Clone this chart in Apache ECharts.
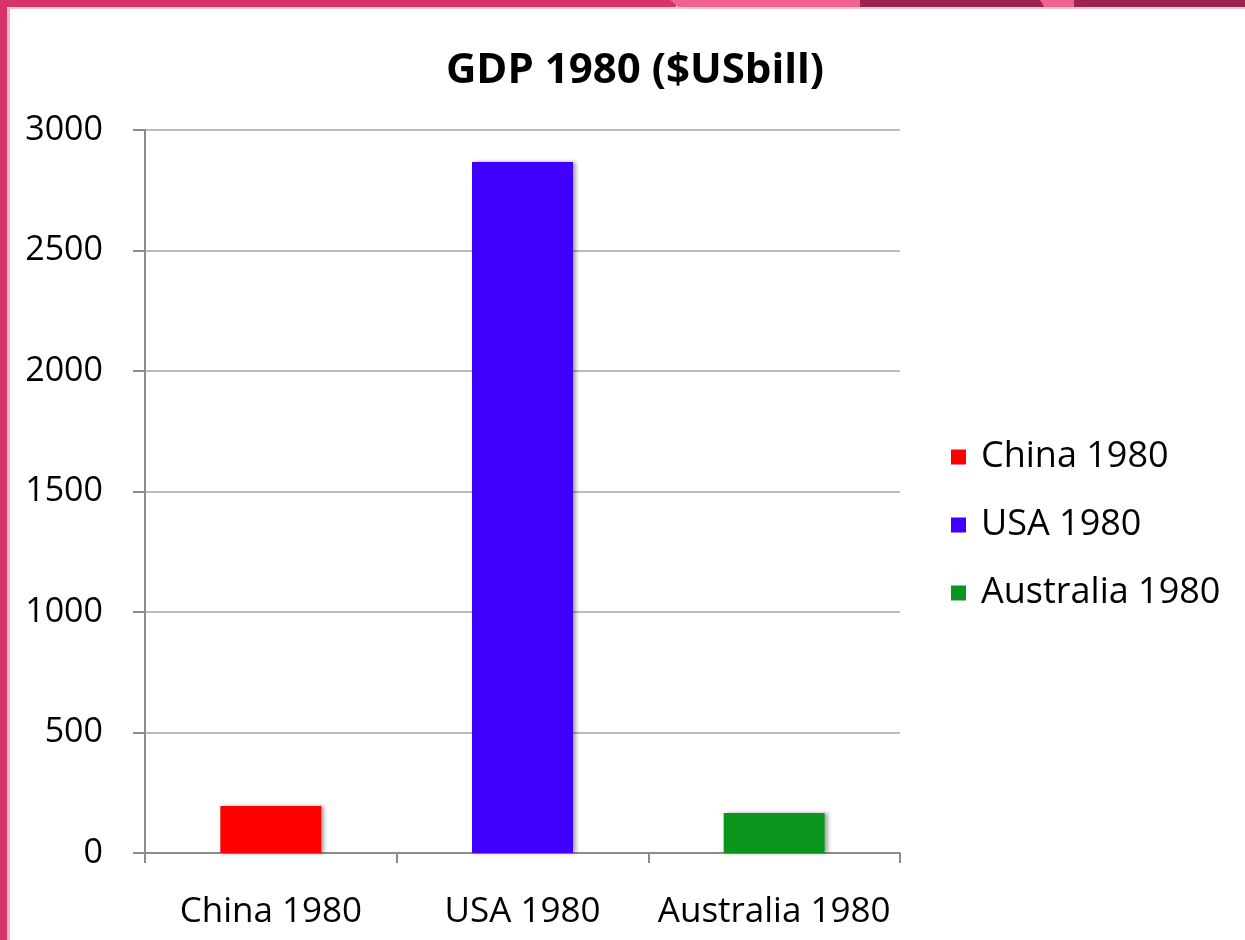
<!DOCTYPE html>
<html>
<head>
<meta charset="utf-8">
<script src="https://cdn.jsdelivr.net/npm/echarts@6/dist/echarts.min.js"></script>
<style>
  html, body { margin: 0; padding: 0; background: #fff; }
  #frame { position: relative; width: 1245px; height: 940px; overflow: hidden; background: #fff; }
  #chart { position: absolute; left: 0; top: 0; width: 1245px; height: 940px; }
  .band { position: absolute; top: 0; height: 7px; }
  #leftBar { position: absolute; left: 0; top: 0; width: 7px; height: 940px; background: #d6336a; }
  #leftEdge { position: absolute; left: 7px; top: 7px; width: 3px; height: 933px; background: #f6b3c9; }
  #topEdge { position: absolute; left: 7px; top: 7px; width: 1238px; height: 2px; background: #f6c3d4; }
</style>
</head>
<body>
<div id="frame">
  <div id="chart"></div>
  <div id="leftBar"></div>
  <div id="leftEdge"></div>
  <div id="topEdge"></div>
  <div class="band" style="left:0;width:676px;background:#d6336a;"></div>
  <div class="band" style="left:670px;width:200px;background:#f06292;clip-path:polygon(0 0,100% 0,96% 100%,4% 100%);"></div>
  <div class="band" style="left:860px;width:186px;background:#9c2350;"></div>
  <div class="band" style="left:1040px;width:36px;background:#f06292;clip-path:polygon(0 0,100% 0,100% 100%,12% 100%);"></div>
  <div class="band" style="left:1074px;width:171px;background:#9c2350;"></div>
</div>
<script>
// GDP in 1980, billions of US dollars
const categories = ['China 1980', 'USA 1980', 'Australia 1980'];
const gdpValues = [195, 2867, 166];
const barColors = ['#ff0000', '#3f00ff', '#0a961e'];
const yTicks = [0, 500, 1000, 1500, 2000, 2500, 3000];

const font = '"Open Sans", "Liberation Sans", sans-serif';

// one series per country so each gets its own legend entry; stacking keeps each bar centred
const series = categories.map((name, i) => ({
  name: name,
  type: 'bar',
  stack: 'gdp',
  barWidth: 101,
  data: categories.map((c, j) => (j === i ? gdpValues[i] : null)),
  itemStyle: {
    color: barColors[i],
    shadowColor: 'rgba(0,0,0,0.35)',
    shadowBlur: 4,
    shadowOffsetX: 3,
    shadowOffsetY: 0
  }
}));

const chart = echarts.init(document.getElementById('chart'), null, { renderer: 'canvas' });
chart.setOption({
  animation: false,
  backgroundColor: 'transparent',
  title: {
    text: 'GDP 1980 ($USbill)',
    left: 630,
    textAlign: 'center',
    top: 45,
    textStyle: { fontFamily: font, fontWeight: 'bold', fontSize: 42, color: '#000' }
  },
  legend: {
    orient: 'vertical',
    left: 946,
    top: 434,
    itemGap: 32,
    itemWidth: 15,
    itemHeight: 15,
    icon: 'rect',
    textStyle: { fontFamily: font, fontSize: 36, fontWeight: 500, color: '#000', padding: [0, 0, 0, 10] },
    data: categories
  },
  grid: { left: 145, right: 345, top: 130, bottom: 87, containLabel: false },
  xAxis: {
    type: 'category',
    data: categories,
    axisLine: { show: true, lineStyle: { color: '#8c8c8c', width: 2 } },
    axisTick: { show: true, length: 10, lineStyle: { color: '#8c8c8c', width: 2 } },
    axisLabel: { fontFamily: font, fontSize: 35, fontWeight: 500, color: '#000', margin: 42, interval: 0 }
  },
  yAxis: {
    type: 'value',
    min: 0,
    max: 3000,
    interval: 500,
    axisLine: { show: true, lineStyle: { color: '#8c8c8c', width: 2 } },
    axisTick: { show: true, inside: false, length: 12, lineStyle: { color: '#8c8c8c', width: 2 } },
    splitLine: { show: true, lineStyle: { color: '#a6a6a6', width: 1.5 } },
    axisLabel: {
      fontFamily: font, fontSize: 34, fontWeight: 500, color: '#000', margin: 42,
      formatter: v => (yTicks.includes(v) ? String(v) : '')
    }
  },
  series: series
});
</script>
</body>
</html>
